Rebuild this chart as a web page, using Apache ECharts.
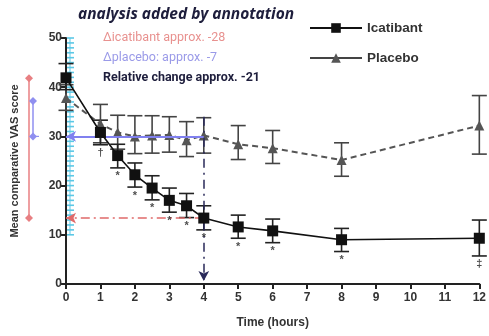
<!DOCTYPE html>
<html><head><meta charset="utf-8">
<script src="https://cdn.jsdelivr.net/npm/echarts@6/dist/echarts.min.js"></script>
<style>html,body{margin:0;padding:0;background:#fff}#c{width:489px;height:336px}</style>
</head><body><div id="c"></div>
<script>
const times = [0, 1, 1.5, 2, 2.5, 3, 3.5, 4, 5, 6, 8, 12];
const icatMean = [41.9, 30.8, 26.1, 22.2, 19.5, 17.0, 15.9, 13.4, 11.6, 10.8, 9.0, 9.3];
const icatLow  = [39.5, 28.3, 23.6, 19.7, 17.1, 14.6, 13.5, 11.0, 9.3, 8.4, 6.6, 5.7];
const icatHigh = [44.8, 33.3, 28.4, 24.6, 22.0, 19.5, 18.4, 15.9, 14.0, 13.2, 11.3, 13.0];
const placMean = [37.8, 32.5, 30.8, 30.0, 30.2, 30.3, 29.2, 30.2, 28.4, 27.6, 25.2, 32.2];
const placLow  = [35.3, 28.7, 27.4, 26.5, 26.6, 26.8, 25.9, 26.6, 25.3, 24.5, 21.9, 26.4];
const placHigh = [40.5, 36.5, 34.3, 34.2, 34.2, 34.0, 33.0, 33.8, 32.2, 31.2, 28.7, 38.3];
const sigMarks = ['', '\u2020', '*', '*', '*', '*', '*', '*', '*', '*', '*', '\u2021'];
const xTicks = [0,1,2,3,4,5,6,7,8,9,10,11,12];
const yTicks = [0,10,20,30,40,50];
const annoTitle = 'analysis added by annotation';
const annoIcat = '\u0394icatibant approx. -28';
const annoPlac = '\u0394placebo: approx. -7';
const annoRel = 'Relative change approx. -21';
// annotation ranges: [top, bottom]
const icatChange = [41.8, 13.4];
const placChange = [37.2, 30.0];
const refTime = 4;

const chart = echarts.init(document.getElementById('c'), null, {renderer:'canvas'});
const FONT = '"Liberation Sans", Arial, sans-serif';

function errSeries(name, low, high, color){
  return {
    type:'custom', name: name, silent:true, z:3,
    data: times.map((t,i)=>[t, low[i], high[i]]),
    renderItem: function(params, api){
      const lo = api.coord([api.value(0), api.value(1)]);
      const hi = api.coord([api.value(0), api.value(2)]);
      const w = 7.5;
      const st = {stroke: color, lineWidth: 1.6};
      return {type:'group', children:[
        {type:'line', shape:{x1:lo[0],y1:lo[1],x2:hi[0],y2:hi[1]}, style:st},
        {type:'line', shape:{x1:lo[0]-w,y1:lo[1],x2:lo[0]+w,y2:lo[1]}, style:st},
        {type:'line', shape:{x1:hi[0]-w,y1:hi[1],x2:hi[0]+w,y2:hi[1]}, style:st}
      ]};
    }
  };
}

const option = {
  animation:false,
  backgroundColor:'#fff',
  grid:{left:66, right:9, top:38, bottom:52, containLabel:false},
  xAxis:{type:'value', min:0, max:12, interval:1,
    name:'Time (hours)', nameLocation:'middle', nameGap:33,
    nameTextStyle:{fontFamily:FONT, fontWeight:'bold', fontSize:12, color:'#333'},
    axisLine:{lineStyle:{color:'#222', width:2}},
    axisTick:{length:5, lineStyle:{color:'#222', width:2}},
    axisLabel:{fontFamily:FONT, fontWeight:'bold', fontSize:12, color:'#333', margin:8},
    splitLine:{show:false}},
  yAxis:{type:'value', min:0, max:50, interval:10,
    name:'Mean comparative VAS score', nameLocation:'middle', nameGap:46,
    nameTextStyle:{fontFamily:FONT, fontWeight:'bold', fontSize:11, color:'#333'},
    axisLine:{show:true, lineStyle:{color:'#222', width:2}},
    axisTick:{show:true, length:6, lineStyle:{color:'#222', width:2}},
    axisLabel:{fontFamily:FONT, fontWeight:'bold', fontSize:12, color:'#333', margin:4},
    splitLine:{show:false}},
  legend:{
    orient:'vertical', left:304, top:16, itemWidth:52, itemHeight:12, itemGap:16,
    textStyle:{fontFamily:FONT, fontWeight:'bold', fontSize:13.5, color:'#333'},
    data:[
      {name:'Icatibant', lineStyle:{type:'solid', width:2}},
      {name:'Placebo', lineStyle:{type:'solid', width:2, color:'#444'}}
    ]
  },
  graphic:[
    {type:'text', left:78, top:7, style:{text:annoTitle, fill:'#1e1e3c', font:'italic bold 15.5px "Noto Sans", sans-serif'}},
    {type:'text', left:103, top:31, style:{text:annoIcat, fill:'#e8918f', font:'12.5px Roboto, sans-serif'}},
    {type:'text', left:103, top:51, style:{text:annoPlac, fill:'#9a9ae8', font:'12.5px Roboto, sans-serif'}},
    {type:'text', left:103, top:71, style:{text:annoRel, fill:'#1e1e3c', font:'bold 12.5px Roboto, sans-serif'}}
  ],
  series:[
    { // cyan ruler annotation
      type:'custom', silent:true, z:1, clip:false,
      data:[[0, 10, 50]],
      renderItem:function(params, api){
        const ch = [];
        for(let v = api.value(1); v <= api.value(2); v++){
          const p = api.coord([0, v]);
          ch.push({type:'line', shape:{x1:p[0]+1, y1:p[1], x2:p[0]+8, y2:p[1]}, style:{stroke:'#5cc8e6', lineWidth:1.6}});
        }
        const a = api.coord([0, api.value(1)]), b = api.coord([0, api.value(2)]);
        ch.push({type:'line', shape:{x1:a[0]+4, y1:a[1], x2:b[0]+4, y2:b[1]}, style:{stroke:'#5cc8e6', lineWidth:1}});
        return {type:'group', children:ch};
      }
    },
    { // change range bars left of axis
      type:'custom', silent:true, z:5, clip:false,
      data:[[icatChange[0], icatChange[1], 0], [placChange[0], placChange[1], 1]],
      renderItem:function(params, api){
        const top = api.coord([0, api.value(0)]), bot = api.coord([0, api.value(1)]);
        const k = api.value(2);
        const x = top[0] + (k === 0 ? -37 : -33);
        const col = k === 0 ? '#e87f82' : '#8f8ff0';
        const d = 4;
        const dia = (y)=>({type:'polygon', shape:{points:[[x,y-d],[x+d,y],[x,y+d],[x-d,y]]}, style:{fill:col}});
        const ch = [
          {type:'line', shape:{x1:x, y1:top[1], x2:x, y2:bot[1]}, style:{stroke:col, lineWidth:1.5}},
          dia(top[1]), dia(bot[1])
        ];
        if(k === 1){
          ch.push({type:'line', shape:{x1:x, y1:bot[1], x2:x+6, y2:bot[1]}, style:{stroke:col, lineWidth:1.2}});
        }
        return {type:'group', children:ch};
      }
    },
    errSeries('placErr', placLow, placHigh, '#444'),
    errSeries('icatErr', icatLow, icatHigh, '#222'),
    {
      name:'Placebo', type:'line', z:4,
      data: times.map((t,i)=>[t, placMean[i]]),
      symbol:'triangle', symbolSize:10,
      itemStyle:{color:'#555'},
      lineStyle:{color:'#555', width:2, type:[6,4]},
      markLine:{
        silent:true, symbol:['none','arrow'], symbolSize:[8,10], label:{show:false},
        data:[
          [{coord:[refTime, placChange[1]], lineStyle:{color:'#8080ef', width:1.8, type:'solid'}}, {coord:[0, placChange[1]]}],
          [{coord:[refTime, icatChange[1]], lineStyle:{color:'#e06a6a', width:1.6, type:[9,4,2,4]}}, {coord:[0, icatChange[1]]}],
          [{coord:[refTime, 34], lineStyle:{color:'#2a2a5a', width:1.5, type:[9,5,2,5]}}, {coord:[refTime, 0.6]}]
        ]
      }
    },
    {
      name:'Icatibant', type:'line', z:6,
      data: times.map((t,i)=>[t, icatMean[i]]),
      symbol:'rect', symbolSize:11,
      itemStyle:{color:'#111'},
      lineStyle:{color:'#111', width:1.6}
    },
    {
      type:'scatter', silent:true, z:6, symbolSize:0,
      data: times.map((t,i)=>({value:[t, icatLow[i]], label:{show:true, formatter: sigMarks[i]}})),
      label:{position:'bottom', distance:3, fontFamily:FONT, fontWeight:'bold', fontSize:11, color:'#222'}
    }
  ]
};
chart.setOption(option);
</script></body></html>
